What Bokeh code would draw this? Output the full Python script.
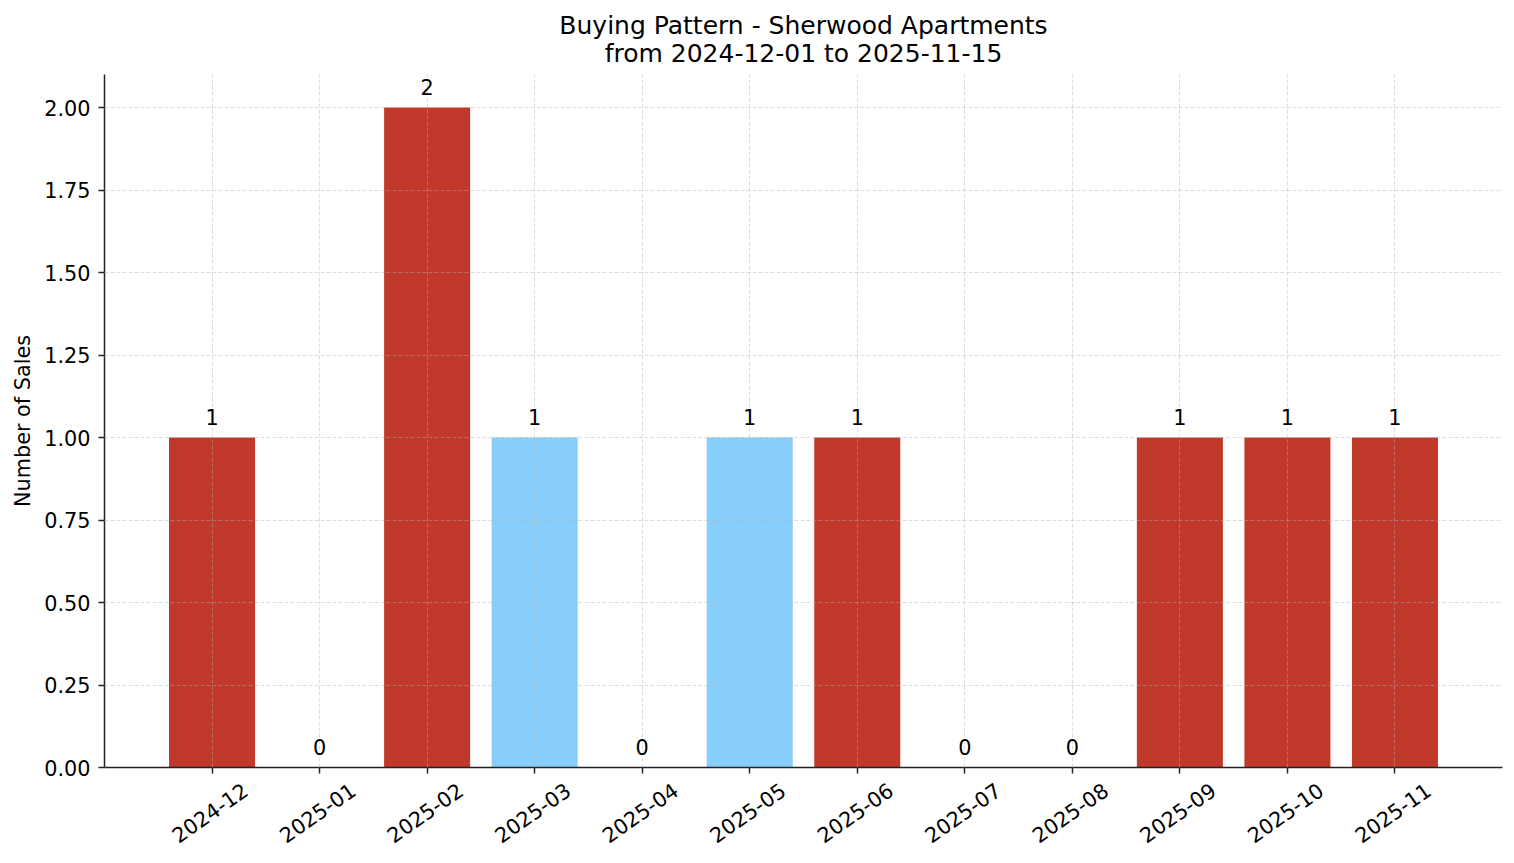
from bokeh.plotting import figure
from bokeh.models import (ColumnDataSource, FixedTicker, SingleIntervalTicker,
                          NumeralTickFormatter, LabelSet, Title, Range1d)
from bokeh.core.properties import value
from bokeh.embed import file_html
from bokeh.resources import INLINE

# data
months = ["2024-12", "2025-01", "2025-02", "2025-03", "2025-04", "2025-05",
          "2025-06", "2025-07", "2025-08", "2025-09", "2025-10", "2025-11"]
sales = [1, 0, 2, 1, 0, 1, 1, 0, 0, 1, 1, 1]
highlighted = [0, 0, 0, 1, 0, 1, 0, 0, 0, 0, 0, 0]

RED = "#c0392b"
BLUE = "#87cefa"
FONT = "DejaVu Sans"
TXT = "20.8px"
DARK = "#222222"

xs = list(range(len(months)))
source = ColumnDataSource(dict(
    x=xs,
    sales=sales,
    label=[str(v) for v in sales],
    color=[BLUE if h else RED for h in highlighted],
))

p = figure(width=1514, height=863, output_backend="svg", toolbar_location=None,
           x_range=Range1d(-1, 12), y_range=Range1d(0, 2.1),
           min_border_left=104, min_border_right=12, min_border_top=74,
           min_border_bottom=96)
p.title = None
p.add_layout(Title(text="from 2024-12-01 to 2025-11-15", align="center",
                   text_font=FONT, text_font_size="25px", text_color="black",
                   text_font_style="normal", standoff=13), "above")
p.add_layout(Title(text="Buying Pattern - Sherwood Apartments", align="center",
                   text_font=FONT, text_font_size="25px", text_color="black",
                   text_font_style="normal", standoff=-18,
                   text_line_height=0.85), "above")

p.vbar(x="x", top="sales", width=0.8, source=source,
       fill_color="color", line_color=None)

# value labels above bars
p.add_layout(LabelSet(x="x", y="sales", text="label", source=source,
                      text_align="center", text_baseline="bottom", y_offset=13,
                      text_font=value(FONT), text_font_size=TXT,
                      text_color="black"))

# x axis: tick marks at the bars (minor ticks), month labels on shifted
# major ticks so the rotated text ends up centred under each bar
shift = 0.31
label_pos = [i + shift for i in xs]
p.xaxis.ticker = FixedTicker(ticks=label_pos, minor_ticks=xs)
p.xaxis.major_label_overrides = {t: m for t, m in zip(label_pos, months)}
p.xaxis.major_label_orientation = 0.6109
p.xaxis.major_tick_out = 0
p.xaxis.major_tick_in = 0
p.xaxis.minor_tick_out = 6
p.xaxis.minor_tick_in = 0
p.xaxis.minor_tick_line_color = DARK
p.xaxis.minor_tick_line_width = 1.5
p.xaxis.major_label_standoff = 14
p.xaxis.major_label_text_line_height = 1.0

p.yaxis.ticker = SingleIntervalTicker(interval=0.25, num_minor_ticks=0)
p.yaxis.formatter = NumeralTickFormatter(format="0.00")
p.yaxis.minor_tick_line_color = None
p.yaxis.major_tick_out = 6
p.yaxis.major_tick_in = 0
p.yaxis.major_label_standoff = 8
p.yaxis.axis_label = "Number of Sales"
p.yaxis.axis_label_standoff = 6

for ax in [p.xaxis[0], p.yaxis[0]]:
    ax.axis_line_color = DARK
    ax.axis_line_width = 1.5
    ax.major_tick_line_color = DARK
    ax.major_tick_line_width = 1.5
    ax.major_label_text_font = FONT
    ax.major_label_text_font_size = TXT
    ax.major_label_text_color = "black"
    ax.axis_label_text_font = FONT
    ax.axis_label_text_font_size = TXT
    ax.axis_label_text_font_style = "normal"
    ax.axis_label_text_color = "black"

p.xgrid.ticker = FixedTicker(ticks=xs)
for g in (p.xgrid, p.ygrid):
    g.grid_line_color = "#b0b0b0"
    g.grid_line_alpha = 0.55
    g.grid_line_width = 0.8
    g.grid_line_dash = "4 2"
    g.level = "guide"

p.outline_line_color = None

open("out.html", "w").write(file_html(p, INLINE))
